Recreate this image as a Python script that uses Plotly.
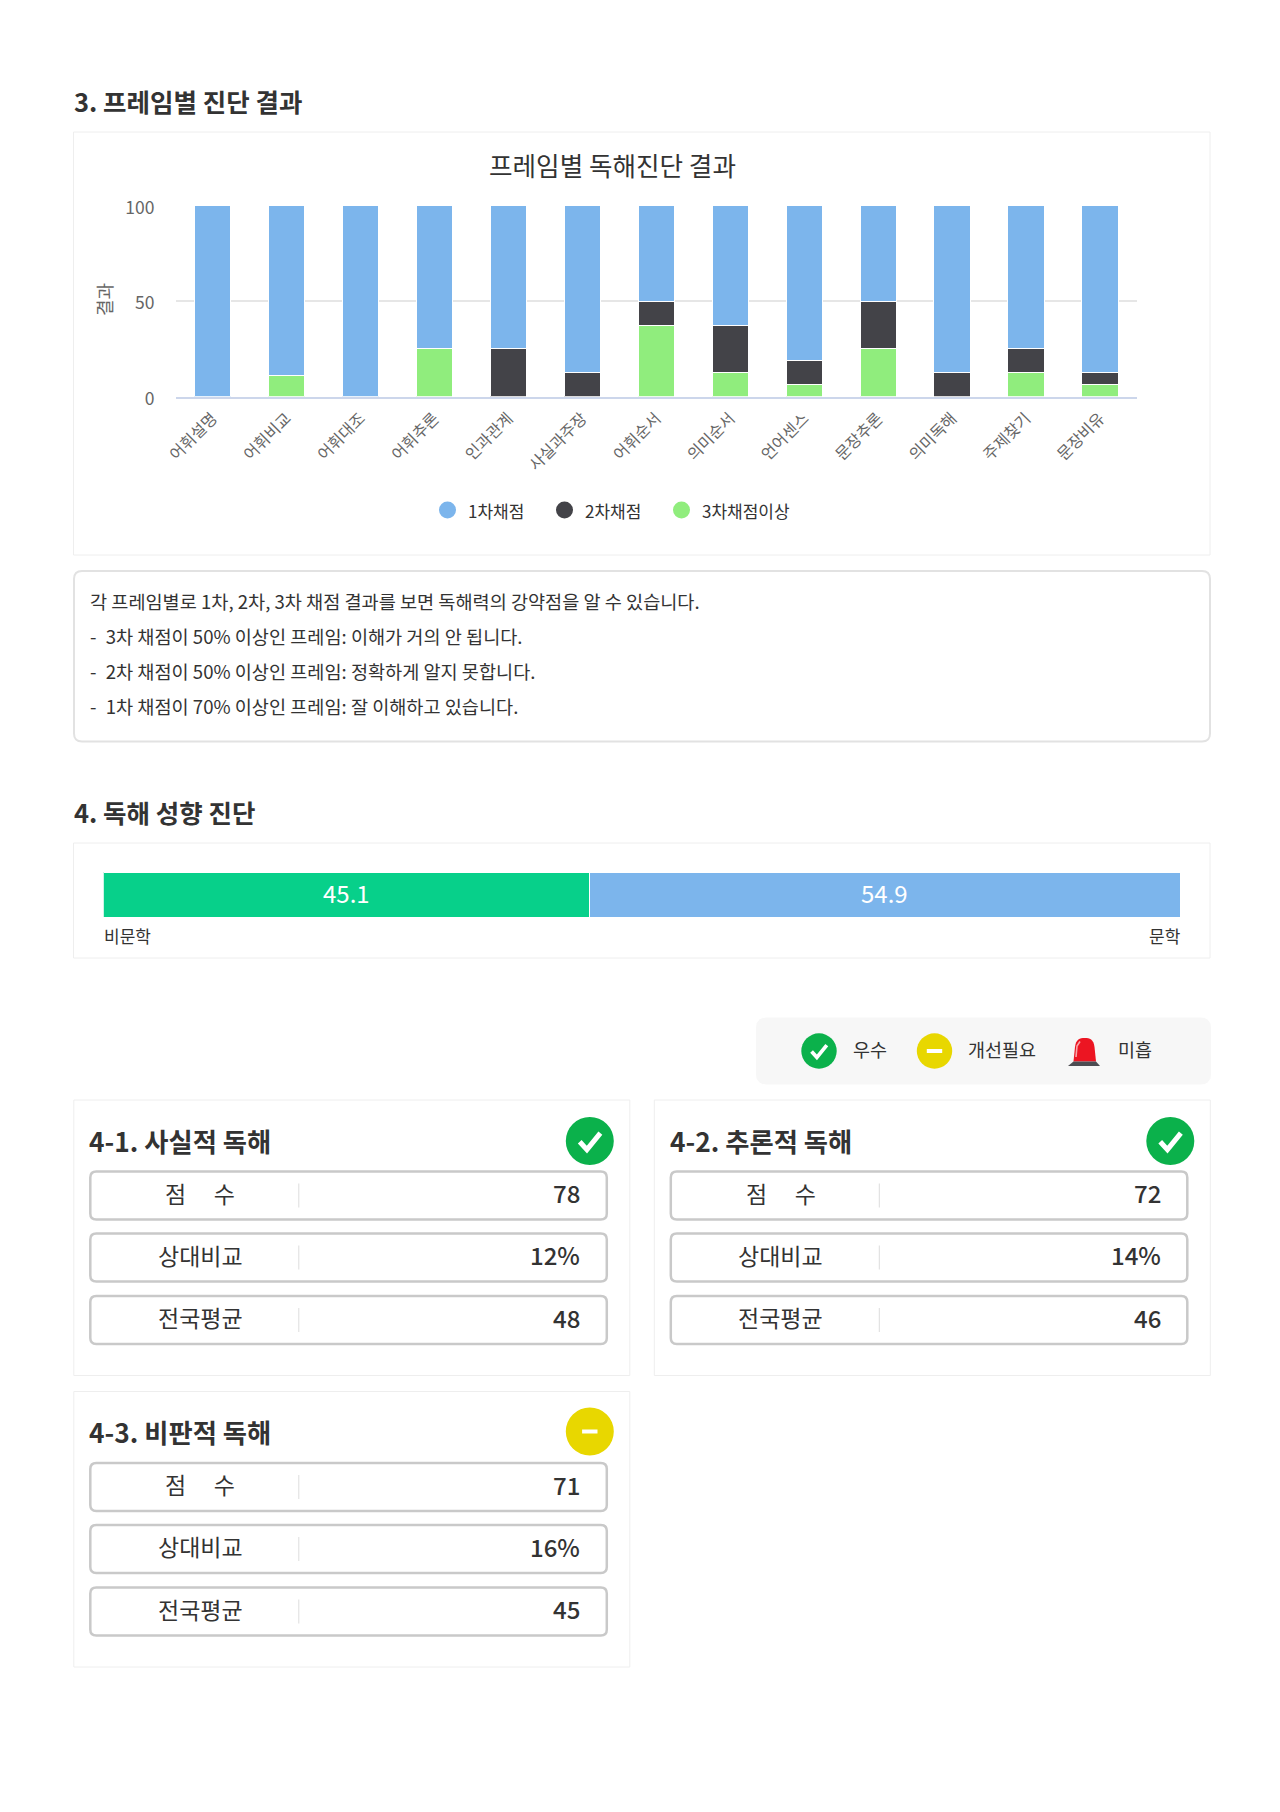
import plotly.graph_objects as go

W, H = 1280, 1812
FONT = "Noto Sans CJK KR"

BLUE = "#7CB5EC"
DARK = "#434348"
LIGHT_GREEN = "#90ED7D"
MINT = "#07D08A"
TEXT = "#333333"
AXIS_TEXT = "#666666"
CARD_LINE = "#EEEEEE"
ROW_LINE = "#C9C9C9"
OK_GREEN = "#0BB14B"
WARN_YELLOW = "#E8D700"

# ---------------------------------------------------------------- data
frames = ["어휘설명", "어휘비교", "어휘대조", "어휘추론", "인과관계", "사실과주장", "어휘순서",
          "의미순서", "언어센스", "문장추론", "의미독해", "주제찾기", "문장비유"]
first_pass = [100, 88.9, 100, 75, 75, 87.5, 50, 62.5, 81.25, 50, 87.5, 75, 87.5]
second_pass = [0, 0, 0, 0, 25, 12.5, 12.5, 25, 12.5, 25, 12.5, 12.5, 6.25]
third_pass = [0, 11.1, 0, 25, 0, 0, 37.5, 12.5, 6.25, 25, 0, 12.5, 6.25]
y_ticks = [0, 50, 100]

notes = ["각 프레임별로 1차, 2차, 3차 채점 결과를 보면 독해력의 강약점을 알 수 있습니다.",
         "-\u20023차 채점이 50% 이상인 프레임: 이해가 거의 안 됩니다.",
         "-\u20022차 채점이 50% 이상인 프레임: 정확하게 알지 못합니다.",
         "-\u20021차 채점이 70% 이상인 프레임: 잘 이해하고 있습니다."]

tendency_labels = ["비문학", "문학"]
tendency_values = [45.1, 54.9]

row_labels = ["점\u3000\u2009수", "상대비교", "전국평균"]
card_titles = ["4-1. 사실적 독해", "4-2. 추론적 독해", "4-3. 비판적 독해"]
card_scores = [78, 72, 71]
card_ranks = [12, 14, 16]
card_means = [48, 46, 45]
card_status = ["ok", "ok", "warn"]


# ---------------------------------------------------------------- helpers
def px(x):
    return x / W


def py(y):
    return 1 - y / H


shapes = []
annotations = []


def text(x, y, s, size=18, color=TEXT, anchor="left", weight=400):
    annotations.append(dict(
        x=px(x), y=py(y), xref="paper", yref="paper", text=s, showarrow=False,
        xanchor=anchor, yanchor="middle", borderpad=0,
        font=dict(family=FONT, size=size, color=color, weight=weight),
    ))


def box(x0, y0, x1, y1, r=0, line=CARD_LINE, width=1, fill="white"):
    # rounded rectangle, built as a path in paper coords
    X0, X1, Y0, Y1 = px(x0), px(x1), py(y0), py(y1)
    rx, ry = r / W, r / H
    path = (f"M {X0 + rx} {Y0} L {X1 - rx} {Y0} Q {X1} {Y0} {X1} {Y0 - ry} "
            f"L {X1} {Y1 + ry} Q {X1} {Y1} {X1 - rx} {Y1} "
            f"L {X0 + rx} {Y1} Q {X0} {Y1} {X0} {Y1 + ry} "
            f"L {X0} {Y0 - ry} Q {X0} {Y0} {X0 + rx} {Y0} Z")
    shapes.append(dict(type="path", xref="paper", yref="paper", path=path,
                       line=dict(color=line, width=width), fillcolor=fill, layer="below"))


def dot(cx, cy, r, color):
    shapes.append(dict(type="circle", xref="paper", yref="paper",
                       x0=px(cx - r), x1=px(cx + r), y0=py(cy + r), y1=py(cy - r),
                       fillcolor=color, line=dict(width=0)))


def status_icon(cx, cy, r, kind):
    if kind == "ok":
        dot(cx, cy, r, OK_GREEN)
        pts = [(-0.42, 0.03), (-0.12, 0.36), (0.44, -0.33)]
        path = "M " + " L ".join(f"{px(cx + a * r)} {py(cy + b * r)}" for a, b in pts)
        shapes.append(dict(type="path", xref="paper", yref="paper", path=path,
                           line=dict(color="white", width=r * 0.21)))
    else:
        dot(cx, cy, r, WARN_YELLOW)
        shapes.append(dict(type="rect", xref="paper", yref="paper",
                           x0=px(cx - 7.7), x1=px(cx + 7.7),
                           y0=py(cy + 2), y1=py(cy - 2),
                           fillcolor="white", line=dict(width=0)))


def siren(x0, x1, top, bottom):
    # the red warning light in the legend box
    a, b = x0 + 5.5, x1 - 4
    m = (a + b) / 2
    dome = (f"M {px(a)} {py(bottom - 4.5)} L {px(a + 1.5)} {py(top + 9)} "
            f"C {px(a + 2.5)} {py(top + 1)} {px(m - 5)} {py(top)} {px(m)} {py(top)} "
            f"C {px(m + 5)} {py(top)} {px(b - 2.5)} {py(top + 1)} {px(b - 1.5)} {py(top + 9)} "
            f"L {px(b)} {py(bottom - 4.5)} Z")
    shapes.append(dict(type="path", xref="paper", yref="paper", path=dome,
                       fillcolor="#EC1522", line=dict(width=0)))
    glint = f"M {px(a + 2.5)} {py(bottom - 9)} L {px(a + 3.5)} {py(top + 8)} L {px(a + 6.5)} {py(top + 3.5)}"
    shapes.append(dict(type="path", xref="paper", yref="paper", path=glint,
                       line=dict(color="#F8A5A8", width=1.6)))
    base = (f"M {px(a)} {py(bottom - 4.5)} L {px(b)} {py(bottom - 4.5)} "
            f"L {px(x1)} {py(bottom)} L {px(x0)} {py(bottom)} Z")
    shapes.append(dict(type="path", xref="paper", yref="paper", path=base,
                       fillcolor="#4C4D52", line=dict(width=0)))


# ---------------------------------------------------------------- figure
fig = go.Figure()

# stacked from the bottom up: 3rd, 2nd, then 1st pass
for values, color, name in [(third_pass, LIGHT_GREEN, "3차채점이상"),
                            (second_pass, DARK, "2차채점"),
                            (first_pass, BLUE, "1차채점")]:
    fig.add_bar(x=frames, y=values, name=name, marker=dict(color=color, line=dict(color="white", width=1)),
                xaxis="x", yaxis="y", hoverinfo="x+y+name")

tendency_colors = [MINT, BLUE]
start = 0
for label, value, color in zip(tendency_labels, tendency_values, tendency_colors):
    fig.add_bar(y=["성향"], x=[value], name=label, orientation="h", xaxis="x2", yaxis="y2",
                marker=dict(color=color, line=dict(color="white", width=1)))
    # value label sits a little above the bar's centre, so an annotation on the axes
    annotations.append(dict(x=start + value / 2, y="성향", xref="x2", yref="y2", text=f"{value}",
                            showarrow=False, yshift=2,
                            font=dict(family=FONT, size=24, color="white")))
    start += value

# section 3
text(73, 100.5, "3. 프레임별 진단 결과", size=25.5, weight=700)
box(73.5, 132, 1210, 555)
text(612.5, 165, "프레임별 독해진단 결과", size=25.6, anchor="center")
legend_items = [("1차채점", BLUE, 447.5), ("2차채점", DARK, 564.5), ("3차채점이상", LIGHT_GREEN, 681.5)]
for label, color, cx in legend_items:
    dot(cx, 510, 8.5, color)
    text(cx + 19, 510, label, size=17)
annotations.append(dict(x=px(104), y=py(300), xref="paper", yref="paper", text="결과", showarrow=False,
                        xanchor="center", yanchor="middle", textangle=-90,
                        font=dict(family=FONT, size=18, color=AXIS_TEXT)))

# notes
box(74, 571, 1210, 741.5, r=8, line="#E2E2E2", width=2)
for i, line in enumerate(notes):
    text(88.5, 600.5 + 35 * i, line, size=18.6)

# section 4
text(73, 811, "4. 독해 성향 진단", size=25.5, weight=700)
box(73.5, 843, 1210, 958)
text(103, 935, tendency_labels[0], size=17)
text(1181.5, 935, tendency_labels[1], size=17, anchor="right")

# status legend
box(756.5, 1018, 1210.5, 1084, r=10, line="#F7F7F7", fill="#F7F7F7")
status_icon(819, 1051, 17.7, "ok")
text(851.5, 1049, "우수", size=18.5)
status_icon(934.5, 1051, 17.7, "warn")
text(967, 1049, "개선필요", size=18.5)
siren(1068, 1100, 1038, 1066)
text(1117, 1049, "미흡", size=18.5)

# score cards
CARD_W, CARD_H = 556, 275.5
card_pos = [(73.8, 1100), (654.3, 1100), (73.8, 1391.5)]
row_tops = [71.5, 133.5, 196]
for (cx, cy), title, score, rank, mean, status in zip(card_pos, card_titles, card_scores,
                                                      card_ranks, card_means, card_status):
    box(cx, cy, cx + CARD_W, cy + CARD_H)
    text(cx + 14.5, cy + 40, title, size=26.3, weight=700)
    status_icon(cx + 516, cy + 41 - (cy > 1200), 24, status)
    for top, label, val in zip(row_tops, row_labels, [f"{score}", f"{rank}%", f"{mean}"]):
        box(cx + 16.5, cy + top, cx + 533, cy + top + 48, r=6, line=ROW_LINE, width=2.5)
        text(cx + 126.5, cy + top + 21, label, size=23, anchor="center")
        text(cx + 507.5, cy + top + 21, val, size=24, anchor="right", weight=500)
        shapes.append(dict(type="line", xref="paper", yref="paper",
                           x0=px(cx + 225), x1=px(cx + 225),
                           y0=py(cy + top + 12), y1=py(cy + top + 36),
                           line=dict(color="#DDDDDD", width=1)))

fig.update_layout(
    width=W, height=H, margin=dict(l=0, r=0, t=0, b=0, pad=0, autoexpand=False),
    paper_bgcolor="white", plot_bgcolor="white",
    barmode="stack", bargap=0.51, showlegend=False,
    font=dict(family=FONT, color=TEXT),
    shapes=shapes, annotations=annotations,
    xaxis=dict(domain=[px(175.5), px(1137)], anchor="y", type="category", tickangle=-45,
               tickfont=dict(family=FONT, size=16, color=AXIS_TEXT), ticks="", ticklabelstandoff=4,
               showgrid=False, showline=True, linecolor="#CCD6EB", linewidth=2),
    yaxis=dict(domain=[py(396.7), py(205.7)], anchor="x", range=[0, 100], tickvals=y_ticks,
               tickfont=dict(family=FONT, size=17.5, color=AXIS_TEXT), ticklabelstandoff=20,
               ticklabelshift=2, gridcolor="#E6E6E6", gridwidth=1.5, zeroline=False, showline=False),
    xaxis2=dict(domain=[px(103.3), px(1180.3)], anchor="y2", range=[0, 100], visible=False),
    yaxis2=dict(domain=[py(917), py(872)], anchor="x2", visible=False),
)
fig.update_traces(selector=dict(xaxis="x2"), width=1)

fig.write_html("out.html", config=dict(displayModeBar=False),
               post_script="document.body.style.margin='0';")
